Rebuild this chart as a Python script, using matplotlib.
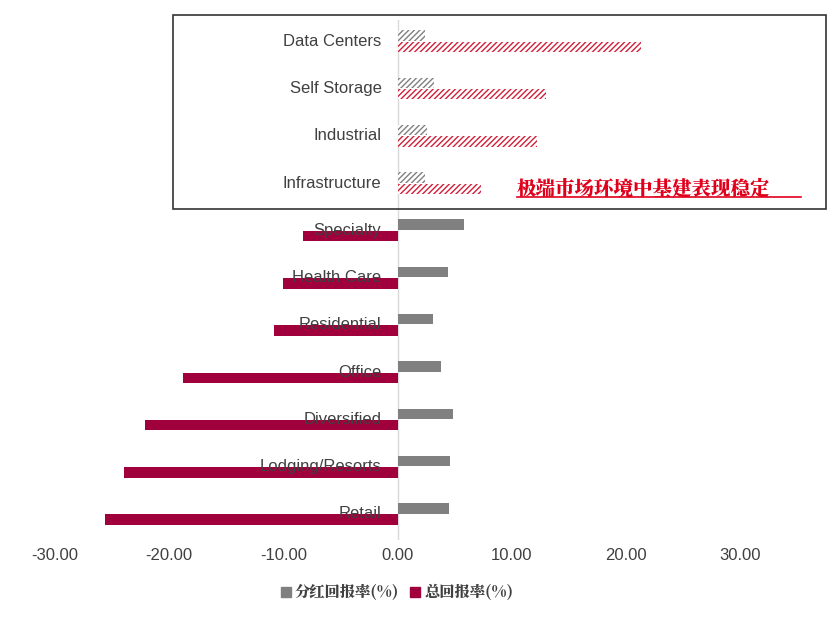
import matplotlib
matplotlib.use("Agg")
import matplotlib.pyplot as plt
from matplotlib.patches import Rectangle, Patch
from matplotlib import font_manager as fm
import numpy as np

plt.rcParams['font.family'] = 'Liberation Sans'
cjk = None
for f in fm.fontManager.ttflist:
    if "CJK SC" in f.name or "CJK" in f.name:
        cjk = fm.FontProperties(fname=f.fname)
        if "SC" in f.name:
            break

categories = ["Data Centers", "Self Storage", "Industrial", "Infrastructure", "Specialty",
              "Health Care", "Residential", "Office", "Diversified", "Lodging/Resorts", "Retail"]
dividend = [2.4, 3.2, 2.6, 2.4, 5.8, 4.4, 3.1, 3.8, 4.9, 4.6, 4.5]
total = [21.3, 13.0, 12.2, 7.3, -8.3, -10.0, -10.8, -18.8, -22.1, -24.0, -25.6]
xticks = [-30, -20, -10, 0, 10, 20, 30]
hatched = 4

W, H = 833, 620
fig = plt.figure(figsize=(W/100, H/100), dpi=100)
ax = fig.add_axes([55/W, 1-540/H, 685/W, 520/H])
gray = "#808080"
red = "#A0003C"
n = len(categories)
y = np.arange(n)[::-1].astype(float)
bh = 0.22
for i in range(n):
    if i < hatched:
        ax.barh(y[i]+0.12, dividend[i], height=bh, color="white", edgecolor=gray, hatch="//////", linewidth=0)
        ax.barh(y[i]-0.12, total[i], height=bh, color="white", edgecolor="#D0203A", hatch="//////", linewidth=0)
    else:
        ax.barh(y[i]+0.12, dividend[i], height=bh, color=gray)
        ax.barh(y[i]-0.12, total[i], height=bh, color=red)
    ax.text(-1.4, y[i]+0.0, categories[i], ha="right", va="center", fontsize=12, color="#404040", zorder=5)
ax.axvline(0, color="#D9D9D9", lw=1, zorder=0)
ax.set_xlim(-30, 30)
ax.set_ylim(-0.55, n-0.55)
ax.set_xticks(xticks)
ax.set_xticklabels([f"{v:.2f}" for v in xticks], fontsize=12, color="#404040")
ax.set_yticks([])
ax.tick_params(axis='x', length=0, pad=6)
for s in ax.spines.values():
    s.set_visible(False)

fig.patches.append(Rectangle((173/W, 1-209/H), 653/W, 194/H, transform=fig.transFigure,
                             fill=False, edgecolor="#333333", lw=1.2))
fig.text(517/W, 1-194/H, "极端市场环境中基建表现稳定", color="#E0001B", fontsize=14,
         fontproperties=cjk, fontweight="bold", va="baseline")
fig.add_artist(plt.Line2D([517/W, 801/W], [1-197/H, 1-197/H], color="#E0001B", lw=1.2))

leg = fig.legend(handles=[Patch(color=gray, label="分红回报率(%)"), Patch(color=red, label="总回报率(%)")],
           loc="center", bbox_to_anchor=(397/W, 1-592/H), ncol=2, frameon=False,
           prop=cjk, handlelength=0.7, handleheight=0.7, columnspacing=0.8, handletextpad=0.3,
           labelcolor="#404040")
for t in leg.get_texts():
    t.set_fontsize(11)
fig.savefig("out.png", dpi=100, facecolor="white")
